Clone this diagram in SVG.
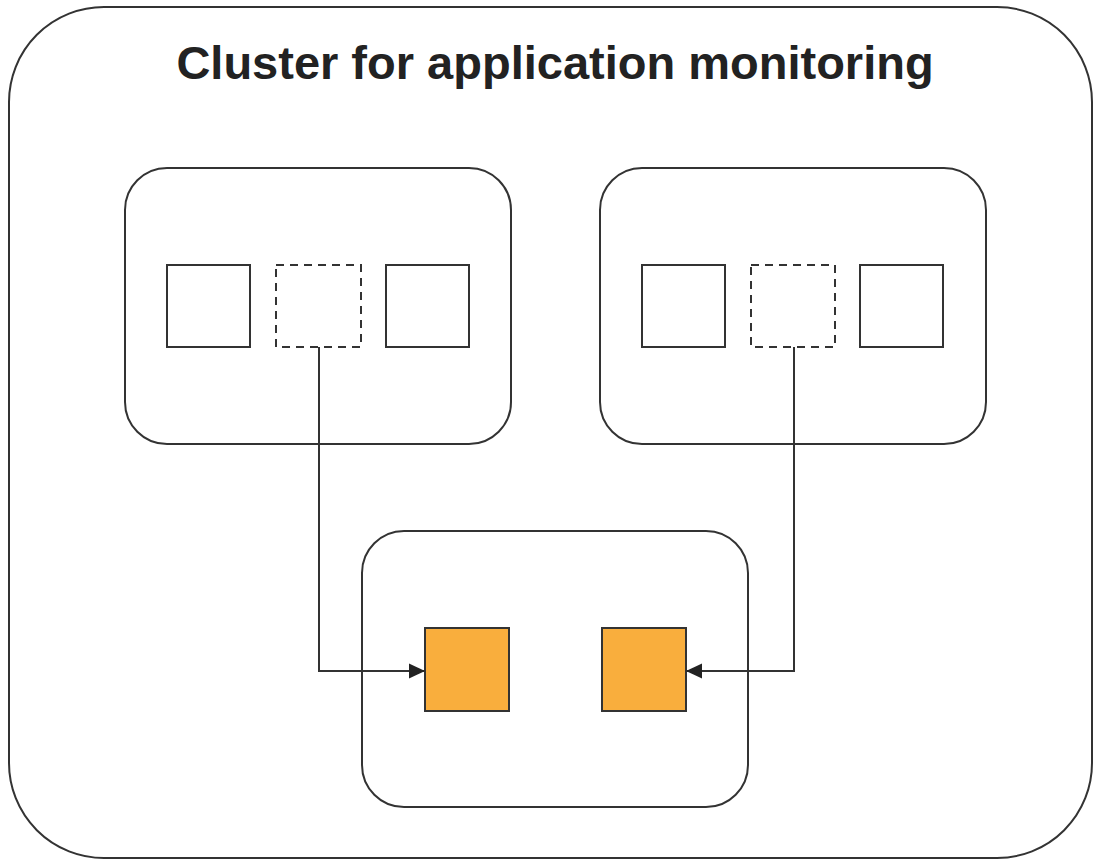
<svg xmlns="http://www.w3.org/2000/svg" width="1094" height="862" viewBox="0 0 1094 862">
<style>
.frame{fill:#fff;stroke:#333;stroke-width:2}
.box{fill:#fff;stroke:#333;stroke-width:2}
.dash{fill:#fff;stroke:#333;stroke-width:2;stroke-dasharray:8 6}
.orange{fill:#F9AE3D;stroke:#333;stroke-width:2}
.conn{fill:none;stroke:#333;stroke-width:2}
.title{font-family:"Liberation Sans",Arial,sans-serif;font-weight:bold;font-size:47px;fill:#222}
</style>
<defs>
<marker id="arrow" markerWidth="18" markerHeight="18" refX="16" refY="9" orient="auto" markerUnits="userSpaceOnUse">
<path d="M0,1.5 L16,9 L0,16.5 Z" fill="#222"/>
</marker>
</defs>
<rect width="1094" height="862" fill="#fff"/>
<g id="cluster">
<rect class="frame" x="9" y="7" width="1083" height="851" rx="95" ry="95"/>
<text class="title" x="555" y="79" text-anchor="middle">Cluster for application monitoring</text>
</g>
<g id="node-left">
<rect class="box" x="125" y="168" width="386" height="276" rx="42" ry="42"/>
<rect class="box" x="167" y="265" width="83" height="82"/>
<rect class="dash" x="276" y="265" width="85" height="82"/>
<rect class="box" x="386" y="265" width="83" height="82"/>
</g>
<g id="node-right">
<rect class="box" x="600" y="168" width="386" height="276" rx="42" ry="42"/>
<rect class="box" x="642" y="265" width="83" height="82"/>
<rect class="dash" x="751" y="265" width="84" height="82"/>
<rect class="box" x="860" y="265" width="83" height="82"/>
</g>
<g id="node-bottom">
<rect class="box" x="362" y="531" width="386" height="276" rx="42" ry="42"/>
<rect class="orange" x="425" y="628" width="84" height="83"/>
<rect class="orange" x="602" y="628" width="84" height="83"/>
</g>
<g id="connectors">
<path class="conn" d="M319,347 V671 H425" marker-end="url(#arrow)"/>
<path class="conn" d="M794,347 V671 H686" marker-end="url(#arrow)"/>
</g>
</svg>
